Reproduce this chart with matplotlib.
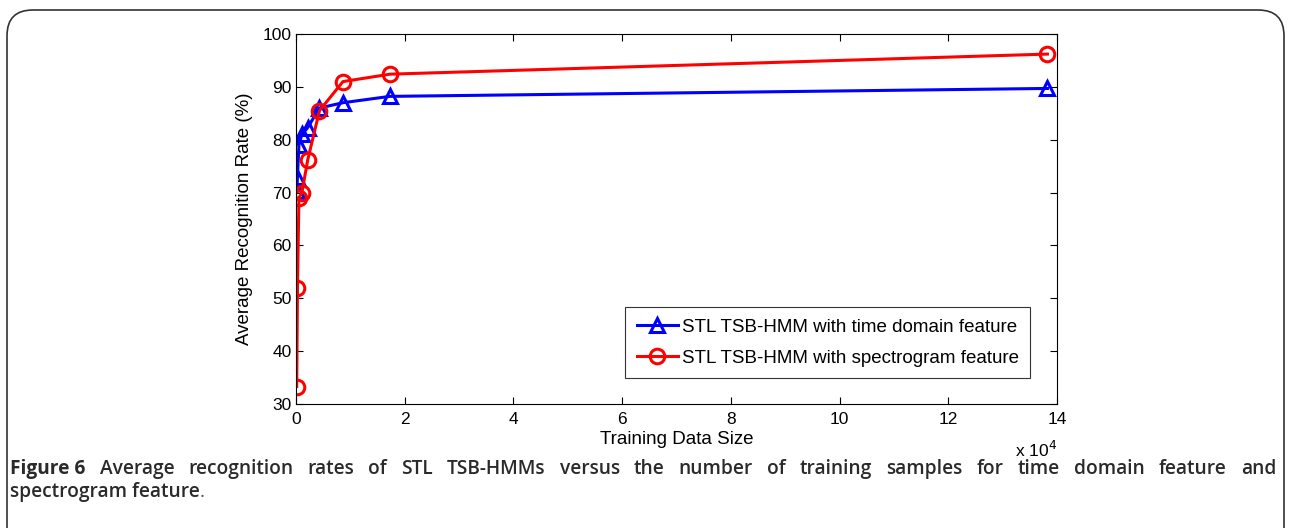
import matplotlib
matplotlib.use("Agg")
import matplotlib.pyplot as plt
from matplotlib.patches import FancyBboxPatch
from matplotlib.ticker import FuncFormatter

training_size = [135, 270, 540, 1080, 2160, 4320, 8640, 17280, 138240]
time_domain = [70.3, 73.0, 79.0, 81.0, 82.3, 86.0, 87.0, 88.2, 89.7]
spectrogram = [33.3, 52.0, 69.0, 70.0, 76.2, 85.5, 91.0, 92.4, 96.2]
labels = ["STL TSB-HMM with time domain feature", "STL TSB-HMM with spectrogram feature"]
x_ticks = [0, 2e4, 4e4, 6e4, 8e4, 10e4, 12e4, 14e4]
y_ticks = [30, 40, 50, 60, 70, 80, 90, 100]
caption_label = "Figure 6"
caption_line1 = "Average recognition rates of STL TSB-HMMs versus the number of training samples for time domain feature and"
caption_line2 = "spectrogram feature"

W, H = 1289, 528
fig = plt.figure(figsize=(W / 100, H / 100), dpi=100)
plt.rcParams['font.family'] = ['Liberation Sans', 'DejaVu Sans']

# rounded frame
frame = FancyBboxPatch((7 / W, -0.1), (1284 - 7) / W, 1 - 10 / H + 0.1,
                       boxstyle="round,pad=0,rounding_size=0.02",
                       transform=fig.transFigure, fill=False,
                       edgecolor="#333333", linewidth=1.2, mutation_aspect=W / H)
fig.patches.append(frame)

ax = fig.add_axes([296 / W, 1 - 404 / H, (1057 - 296) / W, (404 - 34) / H])
ax.plot(training_size, time_domain, color="#0000ff", lw=2.2, marker="^",
        markersize=10.5, markerfacecolor="none", markeredgewidth=2.2, label=labels[0])
ax.plot(training_size, spectrogram, color="#ff0000", lw=2.2, marker="o",
        markersize=10.5, markerfacecolor="none", markeredgewidth=2.2, label=labels[1])

ax.set_xlim(0, 14e4)
ax.set_ylim(30, 100)
ax.set_xticks(x_ticks)
ax.set_yticks(y_ticks)
ax.xaxis.set_major_formatter(FuncFormatter(lambda v, p: f"{v / 1e4:g}"))
ax.tick_params(direction="in", top=True, right=True, labelsize=12.5, length=5,
               width=0.8, pad=3)
ax.tick_params(axis="x", pad=6)
for s in ax.spines.values():
    s.set_linewidth(0.8)
ax.set_xlabel("Training Data Size", fontsize=13.5, labelpad=3)
ax.set_ylabel("Average Recognition Rate (%)", fontsize=13.5, labelpad=7)
ax.text(1.0, -0.096, r"x 10$^{4}$", transform=ax.transAxes, ha="right", va="top",
        fontsize=12.5)

leg = ax.legend(loc="lower right", bbox_to_anchor=(0.9645, 0.07), fontsize=13.5,
                frameon=True, fancybox=False, edgecolor="black",
                handlelength=2.2, handletextpad=0.2, borderpad=0.6,
                labelspacing=0.75, borderaxespad=0)
leg.get_frame().set_linewidth(0.8)

# caption, justified first line
fig.canvas.draw()
r = fig.canvas.get_renderer()
cap_color = "#2a2a2a"
cap_fs = 13.8
left_px, right_px = 10, 1276
y1 = 1 - 469 / H
y2 = 1 - 492 / H
words = [(caption_label, "bold")] + [(w, 600) for w in caption_line1.split()]
texts = []
total_w = 0
for w, wt in words:
    t = fig.text(0, y1, w, fontsize=cap_fs, color=cap_color, va="center",
                 family="Open Sans", fontweight=wt)
    bb = t.get_window_extent(r)
    texts.append((t, bb.width))
    total_w += bb.width
gap = (right_px - left_px - total_w) / (len(texts) - 1)
x = left_px
for t, wd in texts:
    t.set_x(x / W)
    x += wd + gap
t2 = fig.text(left_px / W, y2, caption_line2, fontsize=cap_fs, color=cap_color,
              va="center", family="Open Sans", fontweight=600)
bb2 = t2.get_window_extent(r)
fig.text((left_px + bb2.width) / W, y2, ".", fontsize=cap_fs, color="#555555",
         va="center", family="Open Sans")

fig.savefig("out.png", dpi=100)
